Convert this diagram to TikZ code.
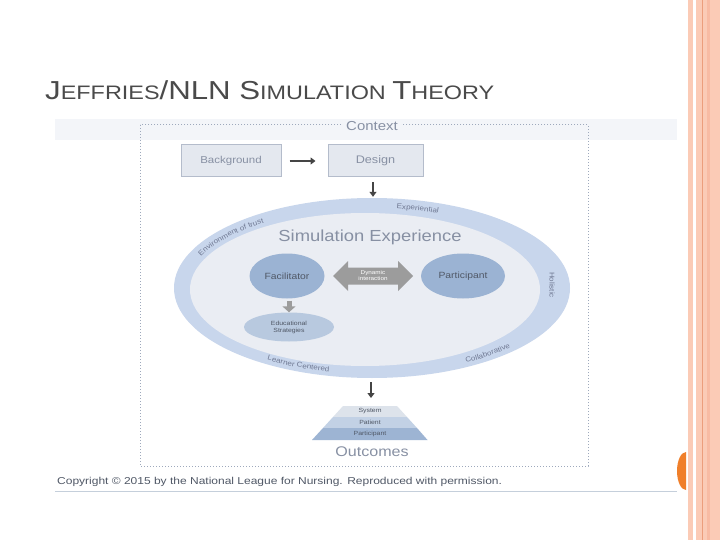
\documentclass[tikz,border=0pt]{standalone}
\usepackage{fontspec}
\setmainfont{Liberation Sans}
\newfontfamily\figfont[FakeStretch=1.15]{Liberation Sans}
\newfontfamily\titlefont[FakeStretch=1.2]{Liberation Sans}
\usetikzlibrary{shapes.geometric,decorations.text,arrows.meta}
\definecolor{salmon}{HTML}{FBCBB6}
\definecolor{salmonmid}{HTML}{F8BBA3}
\definecolor{salmondark}{HTML}{EC9E7C}
\definecolor{orangeacc}{HTML}{F07F2A}
\definecolor{titlegray}{HTML}{4A4A4A}
\definecolor{bandgray}{HTML}{F3F5F9}
\definecolor{framecol}{HTML}{9EA9BC}
\definecolor{figtext}{HTML}{8790A3}
\definecolor{ringtextcol}{HTML}{6F7892}
\definecolor{boxfill}{HTML}{E4E8EF}
\definecolor{boxline}{HTML}{B4BCCB}
\definecolor{ringblue}{HTML}{C8D6EC}
\definecolor{innergray}{HTML}{EAEDF3}
\definecolor{nodeblue}{HTML}{9BB3D3}
\definecolor{edublue}{HTML}{B8C9DF}
\definecolor{dyngray}{HTML}{9C9C9C}
\definecolor{darktext}{HTML}{505866}
\definecolor{pyrA}{HTML}{DDE3EB}
\definecolor{pyrB}{HTML}{C2D1E5}
\definecolor{pyrC}{HTML}{9DB4D3}
\definecolor{lineblue}{HTML}{C5CFDB}
\definecolor{arrowdark}{HTML}{454545}
\tikzset{
  boxnode/.style={draw=boxline, line width=1pt, fill=boxfill, text=figtext, inner sep=0pt},
  darkarr/.style={draw=arrowdark, line width=1.6pt, -{Triangle[width=7pt,length=5pt]}},
  grayblock/.style={draw=dyngray, line width=5pt, -{Triangle[width=13pt,length=6pt]}},
  bluenode/.style={ellipse, fill=nodeblue, inner sep=0pt, text=darktext},
  ringtext/.style={decorate, decoration={text along path, text align=center, text color=ringtextcol}},
}
\begin{document}
\begin{tikzpicture}[x=1pt,y=1pt]
\useasboundingbox (0,0) rectangle (720,-540);
\fill[white] (0,0) rectangle (720,-540);
% right decoration
\fill[salmon] (688,0) rectangle (692.5,-540);
\fill[salmon] (696,0) rectangle (720,-540);
\fill[salmonmid] (706.5,0) rectangle (710,-540);
\draw[salmondark, line width=0.8pt] (702.3,0) -- (702.3,-540);
\fill[orangeacc] (686,-452) arc[start angle=90, end angle=270, x radius=9, y radius=19] -- cycle;
% title
\node[anchor=base west, text=titlegray, inner sep=0pt, font=\titlefont] (title) at (45,-100)
  {\fontsize{26}{30}\selectfont J\fontsize{19.5}{24}\selectfont EFFRIES\fontsize{26}{30}\selectfont /NLN S\fontsize{19.5}{24}\selectfont IMULATION \fontsize{26}{30}\selectfont T\fontsize{19.5}{24}\selectfont HEORY};
% figure band and frame
\fill[bandgray] (55,-119) rectangle (677,-140);
\draw[framecol, dotted, line width=1pt] (140,-125) rectangle (588,-466);
\node[fill=bandgray, inner xsep=3pt, inner ysep=1pt, text=figtext, font=\figfont\fontsize{13}{15}\selectfont] (context) at (372,-126) {Context};
% boxes
\node[boxnode, minimum width=100pt, minimum height=32pt, font=\figfont\fontsize{10}{12}\selectfont] (bg) at (231,-161) {Background};
\node[boxnode, minimum width=95pt, minimum height=32pt, font=\figfont\fontsize{11}{13}\selectfont] (design) at (375.5,-161) {Design};
\draw[darkarr, shorten <=8pt, shorten >=12pt] (bg) -- (design);
% experience ellipse
\node[ellipse, fill=ringblue, minimum width=396pt, minimum height=180pt, inner sep=0pt] (exp) at (372,-288) {};
\fill[innergray] (365,-289.5) ellipse[x radius=175, y radius=76.5];
\draw[darkarr, shorten <=5pt, shorten >=1pt] (design.south -| 373,0) -- (exp.north -| 373,0);
\node[text=figtext, font=\figfont\fontsize{16}{19}\selectfont] (simexp) at (370,-237) {Simulation Experience};
% ring labels
\path[ringtext, decoration={text={|\figfont\fontsize{7}{8}\selectfont|Environment of trust}}]
  (372,-288) ++(174:186 and 80) arc[start angle=174, end angle=116, x radius=186, y radius=80];
\path[ringtext, decoration={text={|\figfont\fontsize{7}{8}\selectfont|Experiential}}]
  (372,-288) ++(96:186 and 80) arc[start angle=96, end angle=54, x radius=186, y radius=80];
\path[ringtext, decoration={text={|\figfont\fontsize{7}{8}\selectfont|Collaborative}}]
  (372,-288) ++(-72:191 and 86) arc[start angle=-72, end angle=-28, x radius=191, y radius=86];
\path[ringtext, decoration={text={|\figfont\fontsize{7}{8}\selectfont|Learner Centered}}]
  (372,-288) ++(-142:191 and 86) arc[start angle=-142, end angle=-88, x radius=191, y radius=86];
\node[rotate=-90, text=ringtextcol, font=\figfont\fontsize{7}{8}\selectfont] (holistic) at (552,-285) {Holistic};
% inner nodes
\node[bluenode, minimum width=75pt, minimum height=45pt, font=\figfont\fontsize{9}{11}\selectfont] (fac) at (287,-276) {Facilitator};
\node[bluenode, minimum width=84pt, minimum height=45pt, font=\figfont\fontsize{9}{11}\selectfont] (part) at (463,-276) {Participant};
\fill[dyngray] (333,-276) -- (348,-261) -- (348,-267.5) -- (398,-267.5) -- (398,-261) -- (413,-276)
  -- (398,-291) -- (398,-284.5) -- (348,-284.5) -- (348,-291) -- cycle;
\node[text=white, align=center, font=\figfont\fontsize{5.5}{6}\selectfont, inner sep=0pt] (dyn) at (373,-276) {Dynamic\\interaction};
\node[ellipse, fill=edublue, minimum width=90pt, minimum height=29pt, inner sep=0pt, align=center, text=darktext, font=\figfont\fontsize{6}{7}\selectfont] (edu) at (289,-327) {Educational\\Strategies};
\draw[grayblock, shorten <=2pt] (fac.south -| 289,0) -- (edu.north -| 289,0);
% pyramid
\coordinate (pyrtop) at (371,-406);
\draw[darkarr, shorten <=4pt, shorten >=8pt] (exp.south -| pyrtop) -- (pyrtop);
\fill[pyrA] (343,-406) -- (397,-406) -- (407,-417) -- (333,-417) -- cycle;
\fill[pyrB] (333,-417) -- (407,-417) -- (417,-428) -- (323,-428) -- cycle;
\fill[pyrC] (323,-428) -- (417,-428) -- (427.5,-440) -- (312,-440) -- cycle;
\node[text=darktext, font=\figfont\fontsize{6}{7}\selectfont] (sys) at (370,-411.5) {System};
\node[text=darktext, font=\figfont\fontsize{6}{7}\selectfont] (pat) at (370,-422.5) {Patient};
\node[text=darktext, font=\figfont\fontsize{6}{7}\selectfont] (ptc) at (370,-434) {Participant};
\node[text=figtext, font=\figfont\fontsize{14}{16}\selectfont] (outc) at (372,-452) {Outcomes};
% copyright
\node[anchor=west, text=darktext, inner sep=0pt, font=\titlefont\fontsize{10}{12}\selectfont] (copy) at (57,-482) {Copyright © 2015 by the National League for Nursing. Reproduced with permission.};
\draw[lineblue, line width=0.8pt] (55,-491) -- (677,-491);
\end{tikzpicture}
\end{document}
